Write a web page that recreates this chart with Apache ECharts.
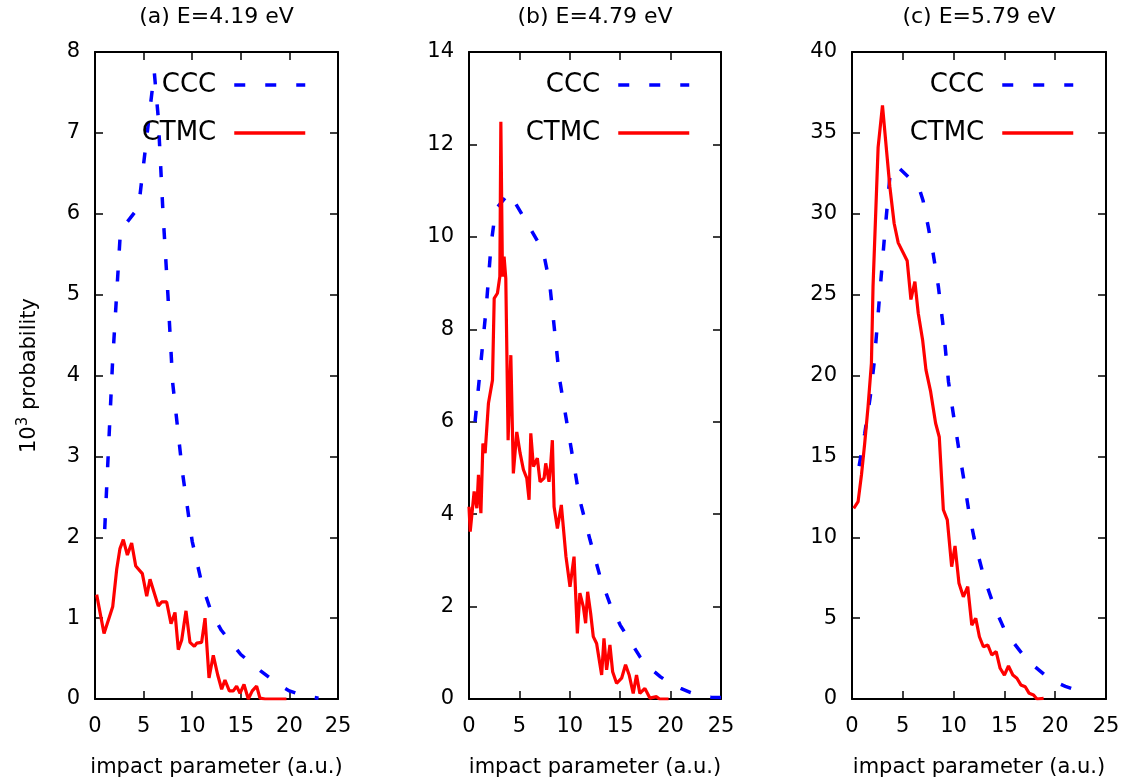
<!DOCTYPE html>
<html>
<head>
<meta charset="utf-8">
<script src="https://cdn.jsdelivr.net/npm/echarts@6/dist/echarts.min.js"></script>
<style>html,body{margin:0;padding:0;background:#fff}#c{width:1131px;height:783px}</style>
</head>
<body>
<div id="c"></div>
<script>
// ---- data (impact parameter [a.u.], 10^3 probability) ----
const titles = ['(a) E=4.19 eV', '(b) E=4.79 eV', '(c) E=5.79 eV'];
const seriesNames = ['CCC', 'CTMC'];
const xTicks = [0, 25, 5];           // min, max, interval
const yRanges = [[0, 8, 1], [0, 14, 2], [0, 40, 5]];

const cccA = [[1.0,2.1],[1.8,4.15],[2.6,5.75],[3.0,5.85],[4.3,6.05],[4.6,6.2],[6.1,7.75],[6.5,7.2],[7.0,6.0],[7.5,5.0],[8.0,3.9],[9.0,2.8],[10.0,1.95],[11.0,1.42],[12.0,1.06],[13.0,0.85],[14.0,0.7],[15.0,0.55],[16.0,0.45],[17.0,0.35],[18.0,0.26],[19.0,0.17],[20.0,0.1],[21.0,0.06],[22.0,0.03],[23.0,0.01]];
const ctmcA = [[0.17,1.29],[0.93,0.81],[1.82,1.14],[2.23,1.60],[2.57,1.86],[2.91,1.97],[3.33,1.78],[3.77,1.93],[4.19,1.645],[4.87,1.55],[5.32,1.27],[5.66,1.48],[6.51,1.15],[6.86,1.20],[7.37,1.20],[7.82,0.93],[8.23,1.07],[8.57,0.61],[8.92,0.73],[9.36,1.09],[9.77,0.70],[10.22,0.65],[10.46,0.69],[10.97,0.70],[11.32,1.0],[11.73,0.26],[12.17,0.54],[12.62,0.30],[13.03,0.12],[13.37,0.235],[13.82,0.10],[14.23,0.10],[14.57,0.16],[14.92,0.07],[15.33,0.18],[15.77,0.0],[16.18,0.10],[16.63,0.16],[16.97,0.01],[17.5,0.0],[18.0,0.0],[18.5,0.0],[19.0,0.0],[19.7,0.0]];

const cccB = [[0.6,6.0],[1.1,7.1],[1.7,8.45],[2.2,9.85],[2.65,10.6],[4.0,10.95],[5.5,10.4],[7.35,9.7],[8.0,9.0],[9.0,6.9],[10.0,5.6],[11.0,4.3],[12.0,3.45],[13.0,2.65],[14.0,2.05],[15.0,1.6],[16.0,1.25],[17.0,0.9],[18.0,0.66],[19.0,0.48],[20.0,0.33],[21.0,0.23],[22.0,0.14],[23.0,0.08],[24.0,0.04],[25.0,0.03]];
const ctmcB = [[0,4.16],[0.12,3.62],[0.51,4.49],[0.78,4.13],[0.94,4.85],[1.18,4.02],[1.38,5.53],[1.6,5.32],[1.93,6.4],[2.33,6.9],[2.5,8.67],[2.82,8.78],[3.06,9.14],[3.16,12.49],[3.32,9.14],[3.48,9.57],[3.65,9.1],[3.88,5.6],[4.15,7.44],[4.4,4.88],[4.74,5.78],[5.07,5.32],[5.4,4.96],[5.73,4.78],[5.96,4.31],[6.13,5.75],[6.39,5.03],[6.78,5.21],[7.05,4.7],[7.45,4.78],[7.61,5.1],[7.94,4.7],[8.11,5.1],[8.27,5.6],[8.44,4.16],[8.77,3.69],[9.16,4.2],[9.62,3.08],[10.02,2.43],[10.42,3.08],[10.75,1.42],[11.0,2.29],[11.34,2.0],[11.57,1.64],[11.77,2.32],[12.07,1.85],[12.33,1.35],[12.66,1.2],[13.16,0.52],[13.39,1.31],[13.65,0.63],[13.98,1.17],[14.25,0.59],[14.64,0.34],[15.14,0.45],[15.53,0.74],[15.89,0.52],[16.29,0.12],[16.62,0.52],[16.95,0.12],[17.45,0.23],[17.94,0.02],[18.6,0.05],[18.9,0],[19.8,0]];

const cccC = [[0.7,14.4],[1.25,16.4],[1.8,18.7],[2.2,20.9],[2.7,24.8],[3.2,28.6],[3.8,32.8],[4.5,32.9],[5.5,32.3],[6.6,31.6],[7.0,30.8],[7.5,29.2],[8.0,27.5],[8.5,25.5],[9.0,22.9],[9.5,19.6],[10.0,17.5],[10.5,15.5],[11.0,13.6],[11.5,11.6],[12.0,10.0],[12.5,8.7],[13.0,7.5],[14.0,5.7],[15.0,4.3],[16.0,3.4],[17.0,2.6],[18.0,2.0],[19.0,1.47],[20.0,1.05],[21.0,0.78],[22.0,0.56],[23.0,0.3]];
const ctmcC = [[0.17,11.79],[0.6,12.2],[0.93,13.85],[1.25,15.8],[1.58,18.07],[1.91,20.75],[2.07,25.5],[2.57,34.1],[3.0,36.7],[3.4,33.9],[3.72,31.7],[4.15,29.4],[4.55,28.2],[5.43,27.1],[5.8,24.7],[6.19,25.8],[6.52,23.85],[6.95,22.2],[7.28,20.35],[7.74,19.0],[8.23,17.05],[8.59,16.2],[8.99,11.7],[9.38,11.07],[9.81,8.18],[10.14,9.46],[10.53,7.15],[10.96,6.32],[11.39,6.94],[11.79,4.57],[12.18,4.99],[12.54,3.85],[12.93,3.23],[13.37,3.34],[13.76,2.72],[14.19,2.93],[14.58,1.9],[15.0,1.48],[15.4,2.04],[15.83,1.48],[16.23,1.28],[16.62,0.87],[17.05,0.76],[17.44,0.35],[17.87,0.25],[18.2,0],[18.86,0.04]];

const cccData = [cccA, cccB, cccC];
const ctmcData = [ctmcA, ctmcB, ctmcC];

// ---- layout ----
const FONT = 'DejaVu Sans';
const W = 1131, H = 783;
const grids = [
  {left: 95, right: W - 338, top: 52, bottom: H - 699},
  {left: 469, right: W - 721, top: 52, bottom: H - 699},
  {left: 852, right: W - 1106, top: 52, bottom: H - 699}
];
const legendRight = [W - 307, W - 691, W - 1075];

const chart = echarts.init(document.getElementById('c'), null, {renderer: 'canvas'});
const xAxis = [], yAxis = [], series = [], title = [], legend = [];
const mkLine = () => ({show: true, onZero: false, lineStyle: {color: '#000', width: 2}});
const mkTick = () => ({show: true, inside: true, length: 8, lineStyle: {color: '#000', width: 1.5}});

grids.forEach((g, i) => {
  const cx = g.left + (W - g.right - g.left) / 2;
  title.push({text: titles[i], left: cx, top: 6, padding: 0, textAlign: 'center',
    textStyle: {fontFamily: FONT, fontSize: 22, fontWeight: 'normal', color: '#000'}});
  legend.push({data: seriesNames, orient: 'vertical', align: 'right', right: legendRight[i], top: 70,
    padding: 0, itemWidth: 71, itemHeight: 14, itemGap: 18, selectedMode: false,
    itemStyle: {opacity: 0, borderWidth: 0},
    lineStyle: {width: 3.5},
    textStyle: {fontFamily: FONT, fontSize: 26, color: '#000', lineHeight: 30, padding: [0, 13, 0, 0]}});
  xAxis.push({type: 'value', gridIndex: i, position: 'bottom', min: xTicks[0], max: xTicks[1], interval: xTicks[2],
    axisLine: mkLine(), axisTick: mkTick(), splitLine: {show: false},
    axisLabel: {inside: false, fontFamily: FONT, fontSize: 21, color: '#000', margin: 17},
    name: 'impact parameter (a.u.)', nameLocation: 'middle', nameGap: 58,
    nameTextStyle: {fontFamily: FONT, fontSize: 21, color: '#000'}});
  xAxis.push({type: 'value', gridIndex: i, position: 'top', min: xTicks[0], max: xTicks[1], interval: xTicks[2],
    axisLine: mkLine(), axisTick: mkTick(), splitLine: {show: false}, axisLabel: {show: false}});
  const yr = yRanges[i];
  const ya = {type: 'value', gridIndex: i, position: 'left', min: yr[0], max: yr[1], interval: yr[2],
    axisLine: mkLine(), axisTick: mkTick(), splitLine: {show: false},
    axisLabel: {inside: false, fontFamily: FONT, fontSize: 21, color: '#000', margin: 15}};
  if (i === 0) {
    ya.name = '10{sup|3} probability';
    ya.nameLocation = 'middle';
    ya.nameGap = 52;
    ya.nameTextStyle = {fontFamily: FONT, fontSize: 21, color: '#000',
      rich: {sup: {fontFamily: FONT, fontSize: 15, color: '#000', padding: [0, 0, 12, 0]}}};
  }
  yAxis.push(ya);
  yAxis.push({type: 'value', gridIndex: i, position: 'right', min: yr[0], max: yr[1], interval: yr[2],
    axisLine: mkLine(), axisTick: mkTick(), splitLine: {show: false}, axisLabel: {show: false}});
  series.push({name: 'CCC', type: 'line', xAxisIndex: 2 * i, yAxisIndex: 2 * i, data: cccData[i],
    showSymbol: false, symbol: 'none', animation: false,
    lineStyle: {color: '#0000ff', width: 3.5, type: [11, 20]}, itemStyle: {color: '#0000ff'}});
  series.push({name: 'CTMC', type: 'line', xAxisIndex: 2 * i, yAxisIndex: 2 * i, data: ctmcData[i],
    showSymbol: false, symbol: 'none', animation: false,
    lineStyle: {color: '#ff0000', width: 3.2}, itemStyle: {color: '#ff0000'}});
});

chart.setOption({animation: false, backgroundColor: '#fff', grid: grids, title, legend, xAxis, yAxis, series});
</script>
</body>
</html>
